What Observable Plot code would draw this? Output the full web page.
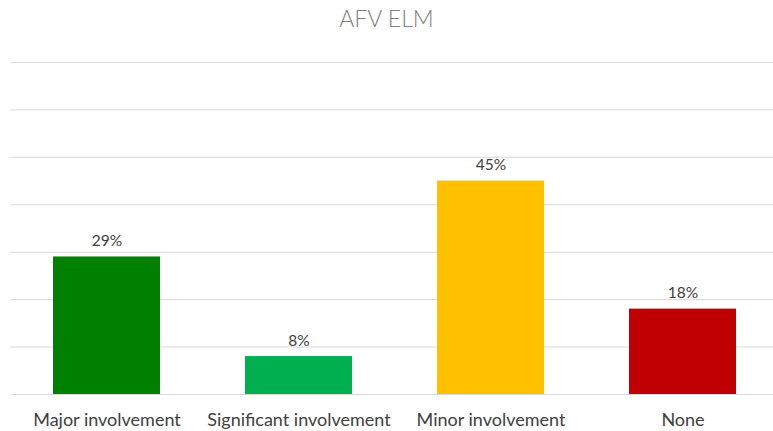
<!DOCTYPE html>
<html>
<head>
<meta charset="utf-8">
<script src="https://cdn.jsdelivr.net/npm/d3@7"></script>
<script src="https://cdn.jsdelivr.net/npm/@observablehq/plot@0.6"></script>
<style>
  html, body { margin: 0; padding: 0; background: #fff; }
  #title { height: 40px; line-height: 36px; text-align: center; font-family: Lato, "Open Sans", sans-serif; font-weight: 300; font-size: 23px; color: #808080; }
  #chart svg { display: block; }
</style>
</head>
<body>
<div id="title">AFV ELM</div>
<div id="chart"></div>
<script>
const categories = ["Major involvement", "Significant involvement", "Minor involvement", "None"];
const values = [29, 8, 45, 18];
const colors = ["#008000", "#00B050", "#FFC000", "#C00000"];
const gridTicks = [0, 10, 20, 30, 40, 50, 60, 70];

const data = categories.map((c, i) => ({cat: c, value: values[i], color: colors[i]}));

const chart = Plot.plot({
  width: 773,
  height: 391,
  marginTop: 22,
  marginBottom: 37,
  marginLeft: 10.5,
  marginRight: -5.5,
  style: {fontFamily: "Lato, 'Open Sans', sans-serif", background: "#fff", overflow: "hidden"},
  x: {domain: categories, paddingInner: 0.443, paddingOuter: 0.2215, align: 0.5, label: null},
  y: {domain: [0, 70], axis: null},
  marks: [
    Plot.ruleY(gridTicks, {stroke: "#d9d9d9", strokeWidth: 1}),
    Plot.barY(data, {x: "cat", y: "value", fill: "color"}),
    Plot.text(data, {x: "cat", y: "value", text: d => d.value + "%", dy: -11, lineAnchor: "bottom", fill: "#404040", fontSize: 15.5}),
    Plot.axisX({tickSize: 0, tickPadding: 19, fontSize: 18, fill: "#404040", label: null})
  ]
});
document.getElementById("chart").appendChild(chart);
</script>
</body>
</html>
